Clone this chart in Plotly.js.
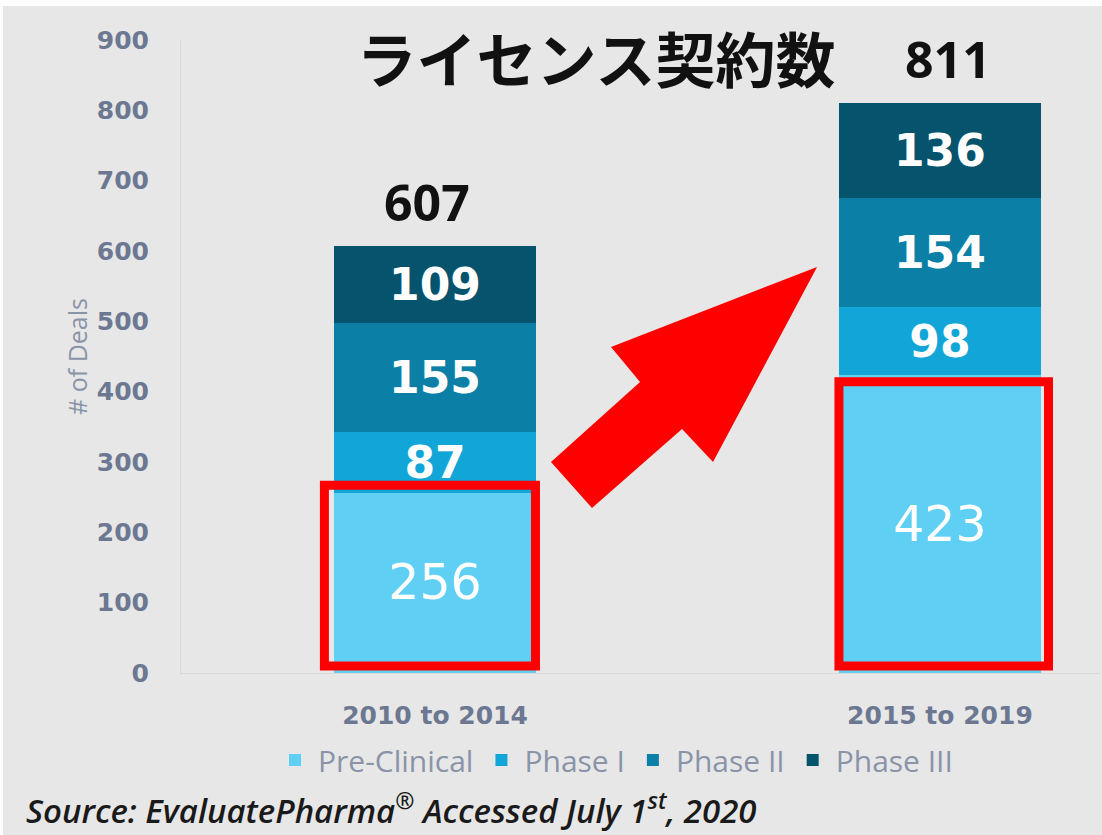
<!DOCTYPE html>
<html>
<head>
<meta charset="utf-8">
<script src="https://cdn.plot.ly/plotly-3.0.1.min.js"></script>
<style>html,body{margin:0;padding:0;background:#e7e7e7;}</style>
</head>
<body>
<div id="chart" style="width:1102px;height:835px;"></div>
<script>
// ---- data ----
const categories = ["2010 to 2014", "2015 to 2019"];
const preClinical = [256, 423];
const phase1 = [87, 98];
const phase2 = [155, 154];
const phase3 = [109, 136];
const seriesNames = ["Pre-Clinical", "Phase I", "Phase II", "Phase III"];
const yTicks = [0, 100, 200, 300, 400, 500, 600, 700, 800, 900];
const titleText = "ライセンス契約数";
const sourceText = "Source: EvaluatePharma<sup>®</sup> Accessed July 1<sup>st</sup>, 2020";

// ---- styling ----
const colors = ["#5fd0f4", "#12a6d8", "#0b7fa5", "#06536d"];
const series = [preClinical, phase1, phase2, phase3];
const totals = categories.map((_, i) => series.reduce((s, arr) => s + arr[i], 0));

// plot-area pixel geometry used for the free-drawn decorations
const L = 181, T = 40, W = 919, H = 633;
const px = x => (x - L) / W;
const py = y => (T + H - y) / H;

const traces = series.map((vals, k) => ({
  type: "bar",
  name: seriesNames[k],
  x: categories,
  y: vals,
  width: 0.4,
  marker: {color: colors[k], line: {width: 0}},
  text: vals.map(String),
  textposition: "inside",
  insidetextanchor: "middle",
  constraintext: "none",
  textfont: {family: "DejaVu Sans", size: k === 0 ? 49 : 44, weight: k === 0 ? "normal" : "bold", color: "#ffffff"},
  hoverinfo: "skip"
}));

// red highlight boxes around the Pre-Clinical segments
const boxPad = [11, -9];
const boxLeft = [0.219, 0.2];
const boxRight = [0.199, 0.215];
const shapes = categories.map((c, i) => ({
  type: "rect", xref: "x", yref: "y",
  x0: i - boxLeft[i], x1: i + boxRight[i],
  y0: 10, y1: preClinical[i] + boxPad[i],
  line: {color: "#ff0000", width: 9},
  fillcolor: "rgba(0,0,0,0)",
  layer: "above"
}));

// red arrow
const arrowPts = [[551,462],[592,508],[682,429],[713,462],[817,267],[611,347],[640,382]];
shapes.push({
  type: "path", xref: "paper", yref: "paper",
  path: "M " + arrowPts.map(p => px(p[0]).toFixed(4) + "," + py(p[1]).toFixed(4)).join(" L ") + " Z",
  fillcolor: "#ff0000",
  line: {width: 0},
  layer: "above"
});

// thin white frame strips of the original picture
[[0, 0, 1102, 6], [0, 0, 3, 835]].forEach(r => shapes.push({
  type: "rect", xref: "paper", yref: "paper",
  x0: px(r[0]), x1: px(r[2]), y0: py(r[3]), y1: py(r[1]),
  fillcolor: "#ffffff", line: {width: 0}, layer: "above"
}));

const totalShift = [-8, 8];
const annotations = categories.map((c, i) => ({
  x: c, y: totals[i], xref: "x", yref: "y",
  text: String(totals[i]),
  showarrow: false,
  yanchor: "bottom",
  xshift: totalShift[i],
  yshift: 8,
  font: {family: "Open Sans", size: 50, weight: "bold", color: "#111111"}
}));
annotations.push({
  x: px(24), y: py(808), xref: "paper", yref: "paper",
  xanchor: "left", yanchor: "middle",
  text: sourceText,
  showarrow: false,
  font: {family: "Open Sans", size: 33, style: "italic", weight: 600, color: "#1a1a1a"}
});

const layout = {
  width: 1102, height: 835,
  paper_bgcolor: "#e7e7e7",
  plot_bgcolor: "#e7e7e7",
  margin: {l: L, r: 1102 - L - W, t: T, b: 835 - T - H, pad: 0},
  barmode: "stack",
  bargap: 0,
  showlegend: true,
  title: {
    text: titleText,
    x: 596 / 1102, xanchor: "center",
    y: 1 - 62 / 835, yanchor: "middle",
    font: {family: "Noto Sans CJK JP", size: 60, weight: "bold", color: "#111111"}
  },
  xaxis: {
    type: "category",
    range: [-0.503, 1.317],
    showline: true, linecolor: "#d8d8d8", linewidth: 1,
    showgrid: false, zeroline: false,
    ticks: "", ticklabelstandoff: 20,
    tickfont: {family: "DejaVu Sans", size: 25, weight: "bold", color: "#6c7891"}
  },
  yaxis: {
    range: [0, 900],
    tickvals: yTicks,
    ticktext: yTicks.map(String),
    showline: true, linecolor: "#d8d8d8", linewidth: 1,
    showgrid: false, zeroline: false,
    ticks: "", ticklabelstandoff: 26,
    tickfont: {family: "DejaVu Sans", size: 25, weight: "bold", color: "#6c7891"},
    title: {text: "# of Deals", standoff: 2, font: {family: "Open Sans", size: 25, color: "#8a94a8"}}
  },
  legend: {
    orientation: "h",
    x: px(272), xanchor: "left",
    y: py(760), yanchor: "middle",
    traceorder: "normal",
    itemwidth: 36,
    bgcolor: "rgba(0,0,0,0)",
    font: {family: "Open Sans", size: 30, color: "#8a94a8"}
  },
  shapes: shapes,
  annotations: annotations
};

Plotly.newPlot("chart", traces, layout, {displayModeBar: false, staticPlot: true});
</script>
</body>
</html>
